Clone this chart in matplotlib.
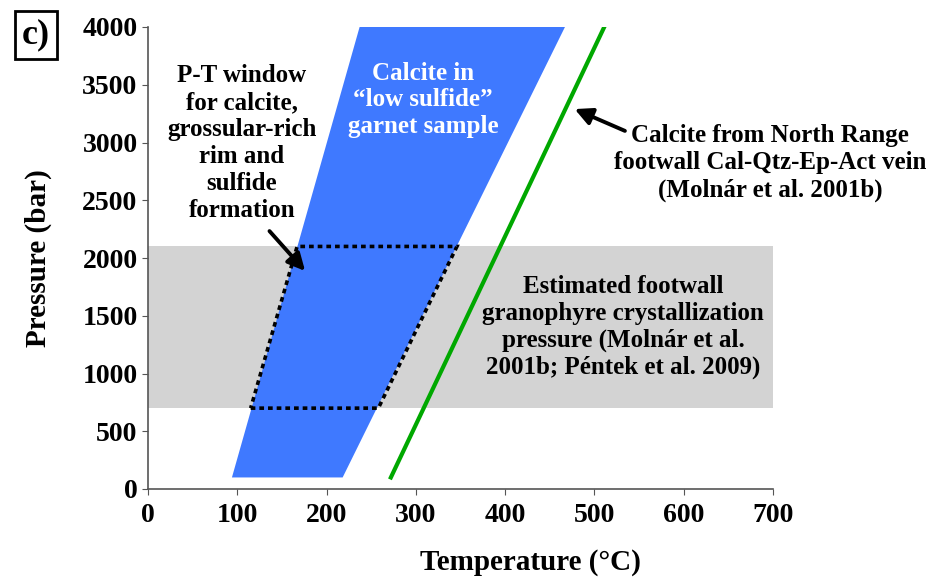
import matplotlib.pyplot as plt
from matplotlib.patches import Polygon, Rectangle

plt.rcParams['font.family'] = ['Liberation Serif', 'DejaVu Serif']
plt.rcParams['font.weight'] = 'bold'

# calcite field in "low sulfide" garnet sample (T, P corners)
blue_T = [94, 218, 467, 237]
blue_P = [100, 100, 4000, 4000]
# North Range vein calcite line
green_T = [272, 511]
green_P = [100, 4000]
# granophyre crystallization pressure band
band_P = [700, 2100]
# P-T window (dotted)
win_T = [115, 258, 346, 167]
win_P = [700, 700, 2100, 2100]

xticks = [0, 100, 200, 300, 400, 500, 600, 700]
yticks = [0, 500, 1000, 1500, 2000, 2500, 3000, 3500, 4000]

fig = plt.figure(figsize=(9.35, 5.8), dpi=100)
ax = fig.add_axes([148/935, 1-489/580, (773-148)/935, (489-27)/580])

ax.add_patch(Rectangle((0, band_P[0]), 700, band_P[1]-band_P[0], color='#d3d3d3', lw=0, zorder=1))
ax.add_patch(Polygon(list(zip(blue_T, blue_P)), closed=True, color='#3f79ff', lw=0, zorder=2))
ax.add_patch(Polygon(list(zip(win_T, win_P)), closed=True, fill=False, ec='black',
                     lw=2.6, ls=(0, (1.3, 1.1)), zorder=3))
ax.plot(green_T, green_P, color='#00a800', lw=3, zorder=4)

ax.set_xlim(0, 700)
ax.set_ylim(0, 4000)
ax.set_xticks(xticks)
ax.set_yticks(yticks)
ax.tick_params(labelsize=20, length=4, color='#555555')
ax.tick_params(axis='x', pad=6)
for s in ['top', 'right']:
    ax.spines[s].set_visible(False)
for s in ['left', 'bottom']:
    ax.spines[s].set_color('#555555')
    ax.spines[s].set_linewidth(1.2)

ax.set_ylabel('Pressure (bar)', fontsize=21, fontweight='bold')
ax.yaxis.set_label_coords((52-148)/625, 0.5)
fig.text(530/935, 1-563/580, 'Temperature (°C)', fontsize=21, fontweight='bold',
         ha='center', va='center')

ax.text(105, 2996, 'P-T window\nfor calcite,\ngrossular-rich\nrim and\nsulfide\nformation',
        fontsize=18, ha='center', va='center', linespacing=1.22, zorder=5)
ax.text(308, 3368, 'Calcite in\n\u201clow sulfide\u201d\ngarnet sample', color='white',
        fontsize=18, ha='center', va='center', linespacing=1.18, zorder=5)
ax.text(697, 2823, 'Calcite from North Range\nfootwall Cal-Qtz-Ep-Act vein\n(Molnár et al. 2001b)',
        fontsize=18, ha='center', va='center', linespacing=1.22, zorder=5, clip_on=False)
ax.text(532, 1403, 'Estimated footwall\ngranophyre crystallization\npressure (Molnár et al.\n2001b; Péntek et al. 2009)',
        fontsize=18, ha='center', va='center', linespacing=1.22, zorder=5)

ax.annotate('', xy=(178, 1870), xytext=(134, 2251),
            arrowprops=dict(arrowstyle='-|>', color='black', lw=2.8, mutation_scale=26), zorder=6)
ax.annotate('', xy=(475, 3299), xytext=(537, 3091),
            arrowprops=dict(arrowstyle='-|>', color='black', lw=2.8, mutation_scale=26), zorder=6)

fig.text(36/935, 1-35/580, 'c)', fontsize=26, fontweight='bold', ha='center', va='center',
         bbox=dict(boxstyle='square,pad=0.2', fc='white', ec='black', lw=2))

fig.savefig('out.png', dpi=100)
